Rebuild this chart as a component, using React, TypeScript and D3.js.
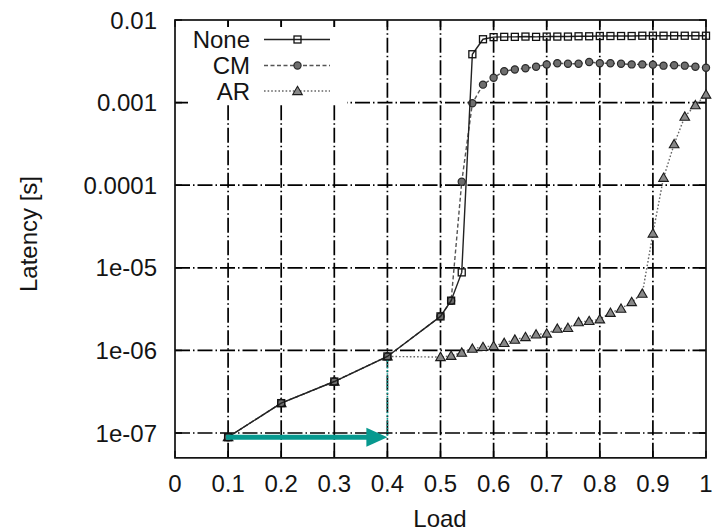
import React from "react";
import * as d3 from "d3";

const loads = [0.1, 0.2, 0.3, 0.4, 0.5, 0.52, 0.54, 0.56, 0.58, 0.6, 0.62, 0.64, 0.66, 0.68, 0.7, 0.72, 0.74, 0.76, 0.78, 0.8, 0.82, 0.84, 0.86, 0.88, 0.9, 0.92, 0.94, 0.96, 0.98, 1.0];

const noneVals = [8.9e-8, 2.3e-7, 4.2e-7, 8.45e-7, 2.58e-6, 4.0e-6, 8.8e-6, 3.85e-3, 5.85e-3,
  6.2e-3, 6.25e-3, 6.25e-3, 6.3e-3, 6.25e-3, 6.3e-3, 6.3e-3, 6.3e-3, 6.35e-3, 6.35e-3, 6.4e-3,
  6.4e-3, 6.4e-3, 6.4e-3, 6.45e-3, 6.45e-3, 6.45e-3, 6.45e-3, 6.45e-3, 6.45e-3, 6.45e-3];

const cmVals = [8.9e-8, 2.3e-7, 4.2e-7, 8.45e-7, 2.58e-6, 4.0e-6, 1.1e-4, 9.8e-4, 1.65e-3,
  2.0e-3, 2.4e-3, 2.52e-3, 2.6e-3, 2.72e-3, 2.9e-3, 3.0e-3, 2.95e-3, 2.95e-3, 3.1e-3, 3.0e-3,
  3.0e-3, 2.95e-3, 2.9e-3, 2.9e-3, 2.88e-3, 2.8e-3, 2.83e-3, 2.8e-3, 2.72e-3, 2.64e-3];

const arVals = [8.9e-8, 2.3e-7, 4.2e-7, 8.45e-7, 8.3e-7, 8.6e-7, 9.4e-7, 1.05e-6, 1.1e-6,
  1.13e-6, 1.23e-6, 1.35e-6, 1.45e-6, 1.56e-6, 1.6e-6, 1.83e-6, 1.87e-6, 2.2e-6, 2.27e-6, 2.38e-6,
  2.85e-6, 3.2e-6, 3.85e-6, 4.86e-6, 2.6e-5, 1.23e-4, 3.14e-4, 6.76e-4, 9.3e-4, 1.25e-3];

const xTicks = [0, 0.1, 0.2, 0.3, 0.4, 0.5, 0.6, 0.7, 0.8, 0.9, 1];
const xTickLabels = ["0", "0.1", "0.2", "0.3", "0.4", "0.5", "0.6", "0.7", "0.8", "0.9", "1"];
const yTicks = [1e-7, 1e-6, 1e-5, 1e-4, 1e-3, 1e-2];
const yTickLabels = ["1e-07", "1e-06", "1e-05", "0.0001", "0.001", "0.01"];

const seriesNames = ["None", "CM", "AR"];

const arrowFrom = [0.1, 8.9e-8];
const arrowTo = [0.4, 8.9e-8];
const guideFrom = [0.4, 8.45e-7];

const FONT = "'Liberation Sans', Arial, Helvetica, sans-serif";
const TEAL = "#07998f";
const TXT = "#141414";

export default function App() {
  const W = 715, H = 532;
  const x = d3.scaleLinear().domain([0, 1]).range([175, 706]);
  const y = d3.scaleLog().domain([1e-7, 1e-2]).range([433, 20]);
  const yBottom = y(5e-8);
  const left = x(0), right = x(1), top = y(1e-2);

  const mk = (vals: number[]) => loads.map((l, i) => [l, vals[i]] as [number, number]);
  const line = d3.line<[number, number]>().x(d => x(d[0])).y(d => y(d[1]));
  const tri = d3.symbol().type(d3.symbolTriangle).size(40)();

  const styles = [
    { name: seriesNames[0], data: mk(noneVals), dash: "none", color: "#222", marker: "square" },
    { name: seriesNames[1], data: mk(cmVals), dash: "4,2.5", color: "#555", marker: "circle" },
    { name: seriesNames[2], data: mk(arVals), dash: "1.6,2", color: "#666", marker: "triangle" },
  ];

  const marker = (kind: string, cx: number, cy: number, key: string | number) => {
    if (kind === "square")
      return <rect key={key} x={cx - 3.5} y={cy - 3.5} width={7} height={7} fill="none" stroke="#111" strokeWidth={1.3} />;
    if (kind === "circle")
      return <circle key={key} cx={cx} cy={cy} r={3.6} fill="#6e6e6e" stroke="#2a2a2a" strokeWidth={1.2} />;
    return <path key={key} d={tri as string} transform={`translate(${cx},${cy + 0.8})`} fill="#888" stroke="#1a1a1a" strokeWidth={1.1} />;
  };

  const gridDash = "15,3,1.5,3";
  const order = [2, 1, 0];
  const legendY = [39.5, 65.5, 91];

  const ax = x(arrowTo[0]);
  const ay = y(arrowTo[1]);

  return (
    <svg width={W} height={H} style={{ position: "absolute", left: 0, top: 0, background: "#fff" }} fontFamily={FONT}>
      <rect x={0} y={0} width={W} height={H} fill="#fff" />
      {/* grid */}
      {xTicks.filter(t => t > 0 && t < 1).map((t, i) => (
        <line key={"gx" + i} x1={x(t)} x2={x(t)} y1={yBottom} y2={top} stroke="#000" strokeWidth={1.7} strokeDasharray={gridDash} />
      ))}
      {yTicks.filter(t => t < 1e-2).map((t, i) => (
        <line key={"gy" + i} x1={left} x2={right} y1={y(t)} y2={y(t)} stroke="#000" strokeWidth={1.7} strokeDasharray={gridDash} />
      ))}
      {/* ticks */}
      {xTicks.map((t, i) => (
        <g key={"tx" + i}>
          <line x1={x(t)} x2={x(t)} y1={yBottom} y2={yBottom - 7} stroke="#000" strokeWidth={1.5} />
          <line x1={x(t)} x2={x(t)} y1={top} y2={top + 7} stroke="#000" strokeWidth={1.5} />
          <text x={x(t)} y={492} textAnchor="middle" fontSize={24} fill={TXT}>{xTickLabels[i]}</text>
        </g>
      ))}
      {yTicks.map((t, i) => (
        <g key={"ty" + i}>
          <line x1={left} x2={left + 7} y1={y(t)} y2={y(t)} stroke="#000" strokeWidth={1.5} />
          <line x1={right} x2={right - 7} y1={y(t)} y2={y(t)} stroke="#000" strokeWidth={1.5} />
          <text x={157} y={y(t) + 8.5} textAnchor="end" fontSize={24} fill={TXT}>{yTickLabels[i]}</text>
        </g>
      ))}
      {/* legend box (opaque) */}
      <rect x={188} y={27} width={159} height={77} fill="#fff" />
      {styles.map((s, i) => (
        <g key={"lg" + i}>
          <text x={250} y={legendY[i] + 8.5} textAnchor="end" fontSize={24} fill={TXT}>{s.name}</text>
          <line x1={264} x2={330} y1={legendY[i]} y2={legendY[i]} stroke={s.color} strokeWidth={1.4} strokeDasharray={s.dash} />
          {marker(s.marker, 297.5, legendY[i], "lm" + i)}
        </g>
      ))}
      {/* frame */}
      <rect x={left} y={top} width={right - left} height={yBottom - top} fill="none" stroke="#111" strokeWidth={1.7} />
      {/* series */}
      {order.map(k => {
        const s = styles[k];
        return (
          <g key={"s" + k}>
            <path d={line(s.data) as string} fill="none" stroke={s.color} strokeWidth={1.4} strokeDasharray={s.dash} />
            {s.data.map((d, j) => marker(s.marker, x(d[0]), y(d[1]), j))}
          </g>
        );
      })}
      {/* annotation */}
      <line x1={x(guideFrom[0])} x2={x(guideFrom[0])} y1={y(guideFrom[1]) + 4} y2={ay} stroke={TEAL} strokeWidth={1.6} strokeDasharray="1.6,1.6" />
      <line x1={x(arrowFrom[0]) - 2} x2={ax - 20} y1={ay} y2={ay} stroke={TEAL} strokeWidth={5} />
      <polygon points={`${ax - 21},${ay - 9.5} ${ax},${ay} ${ax - 21},${ay + 9.5}`} fill={TEAL} />
      {/* axis titles */}
      <text x={440} y={527} textAnchor="middle" fontSize={24} fill={TXT}>Load</text>
      <text transform={`translate(37,234) rotate(-90)`} textAnchor="middle" fontSize={24} fill={TXT}>Latency [s]</text>
    </svg>
  );
}
